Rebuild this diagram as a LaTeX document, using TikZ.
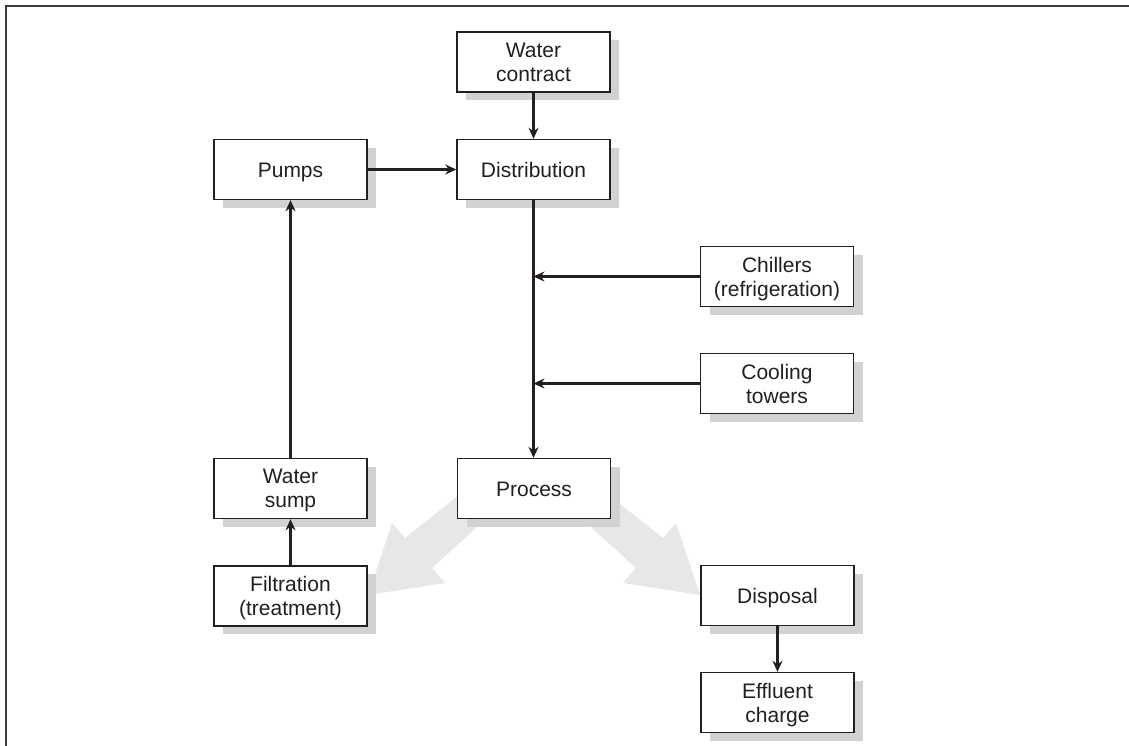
\documentclass[tikz,border=0pt]{standalone}
\usepackage{fontspec}
\setmainfont{Liberation Sans}
\usetikzlibrary{arrows.meta,shadows}
\definecolor{ink}{HTML}{231F20}
\definecolor{shadowgray}{HTML}{D1D2D4}
\definecolor{arrowgray}{HTML}{E6E7E8}
\definecolor{framegray}{HTML}{3A3A3A}
\tikzset{
  box/.style={draw=ink, line width=1.4bp, fill=white, minimum width=153bp, minimum height=60bp,
    inner sep=2bp, align=center, text=ink, font=\fontsize{21bp}{24bp}\selectfont, text depth=0pt,
    drop shadow={shadow xshift=9bp, shadow yshift=-8bp, fill=shadowgray, opacity=1}},
  oneline/.style={text height=15bp, text depth=0pt},
  flowarrow/.style={ink, line width=2.4bp, -{Stealth[length=11bp,width=10bp]}},
  bigarrow/.style={fill=arrowgray, draw=none}
}
\begin{document}
\begin{tikzpicture}[x=1bp,y=-1bp]
\useasboundingbox (0,0) rectangle (1129,746);
\fill[white] (0,0) rectangle (1129,746);
\draw[framegray, line width=2bp] (6,746) -- (6,6.5) -- (1129,6.5);
% big gray arrows (behind boxes)
\fill[bigarrow] (482,477) -- (405,538) -- (392,523) -- (368,595) -- (445,583) -- (432,568) -- (509,498) -- cycle;
\fill[bigarrow] (586,477) -- (663,538) -- (676,523) -- (700,595) -- (623,583) -- (636,568) -- (559,498) -- cycle;
% boxes
\node[box] (wc)    at (533.5,62)   {Water\\contract};
\node[box,oneline] (dist)  at (533.5,169.5)  {Distribution};
\node[box,oneline] (pumps) at (290.5,169.5)  {Pumps};
\node[box] (chill) at (777,276.5)    {Chillers\\(refrigeration)};
\node[box] (cool)  at (777,383.5)    {Cooling\\towers};
\node[box,oneline] (proc)  at (534,488.5)  {Process};
\node[box] (sump)  at (290.5,488.5){Water\\sump};
\node[box] (filt)  at (290.5,596)  {Filtration\\(treatment)};
\node[box,oneline] (disp)  at (777.5,595.5){Disposal};
\node[box] (eff)   at (777.5,702.5){Effluent\\charge};
% connectors
\draw[flowarrow] (wc.south) -- (dist.north);
\draw[flowarrow] (pumps.east) -- (dist.west);
\draw[flowarrow] (dist.south) -- (dist.south |- proc.north);
\coordinate (j1) at (dist.south |- chill.west);
\coordinate (j2) at (dist.south |- cool.west);
\draw[flowarrow] (chill.west) -- (j1);
\draw[flowarrow] (cool.west) -- (j2);
\draw[flowarrow] (sump.north) -- (pumps.south);
\draw[flowarrow] (filt.north) -- (sump.south);
\draw[flowarrow] (disp.south) -- (eff.north);
\end{tikzpicture}
\end{document}
